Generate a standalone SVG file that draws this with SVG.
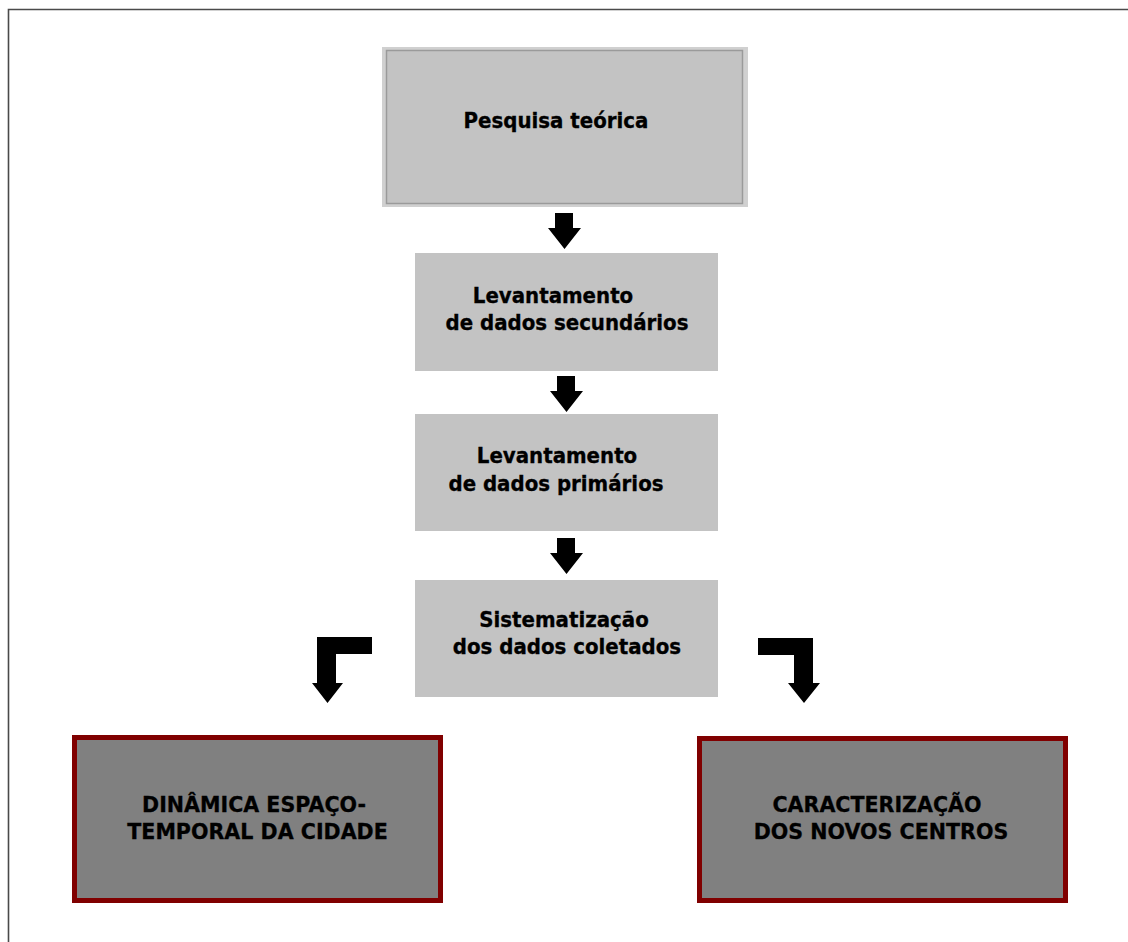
<svg xmlns="http://www.w3.org/2000/svg" width="1128" height="942" viewBox="0 0 1128 942">
<style>
.t{font-family:"DejaVu Sans Condensed","DejaVu Sans","Liberation Sans",sans-serif;font-stretch:condensed;font-weight:bold;font-size:22px;fill:#000;stroke:#000;stroke-width:0.3;text-anchor:middle}
.T{font-family:"DejaVu Sans","Liberation Sans",sans-serif;font-weight:bold;font-size:20.6px;fill:#000;stroke:#000;stroke-width:0.3;text-anchor:middle}
.lg{fill:#c3c3c3}
.dk{fill:#808080;stroke:#800000;stroke-width:5}
.ar{fill:#000}
</style>
<rect width="1128" height="942" fill="#fff"/>
<path d="M8.5,942 V9.5 H1128" fill="none" stroke="#4a4a4a" stroke-width="1.6"/>
<g id="n1">
<rect x="382" y="47" width="366" height="160" fill="#d0d0d0"/>
<rect x="386.5" y="50.5" width="356" height="153" class="lg" stroke="#9a9a9a" stroke-width="1.5"/>
<text class="t" x="556" y="128">Pesquisa teórica</text>
</g>
<g id="n2">
<rect x="415" y="253" width="303" height="118" class="lg"/>
<text class="t" x="553" y="303">Levantamento</text>
<text class="t" x="567" y="330">de dados secundários</text>
</g>
<g id="n3">
<rect x="415" y="414" width="303" height="117" class="lg"/>
<text class="t" x="557" y="463">Levantamento</text>
<text class="t" x="556" y="491">de dados primários</text>
</g>
<g id="n4">
<rect x="415" y="580" width="303" height="117" class="lg"/>
<text class="t" x="564" y="627">Sistematização</text>
<text class="t" x="567" y="654">dos dados coletados</text>
</g>
<g id="n5">
<rect x="74.5" y="737.5" width="366" height="163" class="dk"/>
<text class="T" x="254" y="812">DINÂMICA ESPAÇO-</text>
<text class="T" x="257.5" y="839">TEMPORAL DA CIDADE</text>
</g>
<g id="n6">
<rect x="699.5" y="738.5" width="366" height="162" class="dk"/>
<text class="T" x="877" y="812">CARACTERIZAÇÃO</text>
<text class="T" x="881" y="839">DOS NOVOS CENTROS</text>
</g>
<g id="connectors">
<path class="ar" d="M555,213 H573 V228 H581 L564.5,249 L548,228 H555 Z"/>
<path class="ar" d="M557,376 H575 V391 H583 L566.5,412 L550,391 H557 Z"/>
<path class="ar" d="M557,538 H575 V553 H583 L566.5,574 L550,553 H557 Z"/>
<path class="ar" d="M372,637 H317 V683 H312 L327.5,703 L343,683 H336 V654 H372 Z"/>
<path class="ar" d="M758,638 H813 V683 H820 L804,703 L788,683 H794 V655 H758 Z"/>
</g>
</svg>
